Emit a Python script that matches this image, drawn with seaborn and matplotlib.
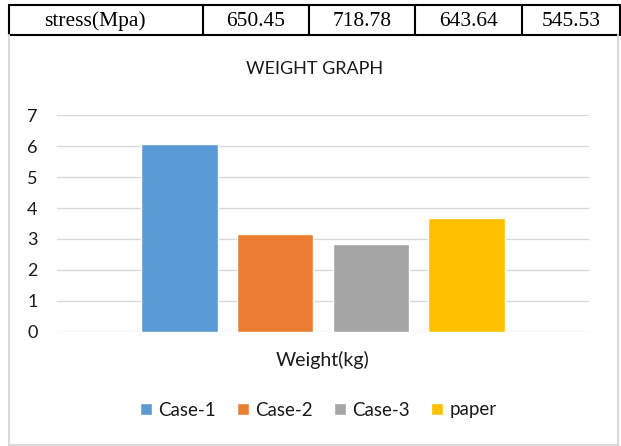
import matplotlib
matplotlib.use("Agg")
import matplotlib.pyplot as plt
from matplotlib.lines import Line2D
import pandas as pd
import seaborn as sns

# Data
cases = ["Case-1", "Case-2", "Case-3", "paper"]
weights = [6.07, 3.16, 2.84, 3.68]
stress = ["650.45", "718.78", "643.64", "545.53"]
stress_label = "stress(Mpa)"
category = "Weight(kg)"
colors = ["#5B9BD5", "#ED7D31", "#A5A5A5", "#FFC000"]
y_ticks = [0, 1, 2, 3, 4, 5, 6, 7]

sns.set_theme(style="white")
plt.rcParams["font.family"] = ["Lato", "DejaVu Sans"]

W, H = 621, 446
fig = plt.figure(figsize=(W / 100, H / 100), dpi=100)


def fx(px):
    return px / W


def fy(py):
    return 1 - py / H


# Table row above the chart
col_edges = [9, 203, 309, 415, 522, 620]
top, bot = 5, 35
lw_tab = 1.5
for x in col_edges:
    fig.add_artist(Line2D([fx(x), fx(x)], [fy(top), fy(bot)], color="black",
                          lw=lw_tab, transform=fig.transFigure))
for y in (top, bot):
    fig.add_artist(Line2D([fx(col_edges[0]), fx(col_edges[-1])], [fy(y), fy(y)],
                          color="black", lw=lw_tab, transform=fig.transFigure))
cells = [stress_label] + stress
for i, txt in enumerate(cells):
    cx = (col_edges[i] + col_edges[i + 1]) / 2
    if i == 0:
        cx = 95
    fig.text(fx(cx), fy((top + bot) / 2 + 1), txt, ha="center", va="center",
             fontsize=15.5, family="Liberation Serif", color="black")

# Chart frame
frame_c = "#D9D9D9"
for (x0, y0, x1, y1) in [(9, 35, 9, 445), (618, 35, 618, 445), (9, 445, 618, 445)]:
    fig.add_artist(Line2D([fx(x0), fx(x1)], [fy(y0), fy(y1)], color=frame_c,
                          lw=1.5, transform=fig.transFigure))

# Bar chart
ax = fig.add_axes([fx(57), fy(331.7), fx(589) - fx(57), (331.7 - 115.3) / H])
df = pd.DataFrame({"metric": [category] * len(cases), "case": cases, "value": weights})
sns.barplot(data=df, x="metric", y="value", hue="case", hue_order=cases,
            palette=colors, width=0.72, gap=0.2, saturation=1, ax=ax, zorder=3)

ax.set_ylim(0, 7)
ax.set_yticks(y_ticks)
ax.set_xlim(-0.5, 0.5)
ax.grid(axis="y", color="#D9D9D9", lw=1.0, zorder=0)
ax.set_axisbelow(True)
for s in ax.spines.values():
    s.set_visible(False)
ax.tick_params(axis="y", length=0, pad=14, labelsize=13, labelcolor="#1a1a1a")
ax.tick_params(axis="x", length=0, pad=14, labelsize=14, labelcolor="#1a1a1a")
ax.set_xlabel("")
ax.set_ylabel("")

fig.text(fx(315), fy(69), "WEIGHT GRAPH", ha="center", va="center",
         fontsize=13, color="#1a1a1a")

sns.move_legend(ax, "center", bbox_to_anchor=(fx(318), fy(410)),
                bbox_transform=fig.transFigure, ncol=4, frameon=False, title=None,
                fontsize=13.5, handlelength=0.65, handleheight=0.65,
                handletextpad=0.35, columnspacing=1.1)
for t in ax.get_legend().get_texts():
    t.set_color("#1a1a1a")

fig.savefig("out.png", dpi=100)
